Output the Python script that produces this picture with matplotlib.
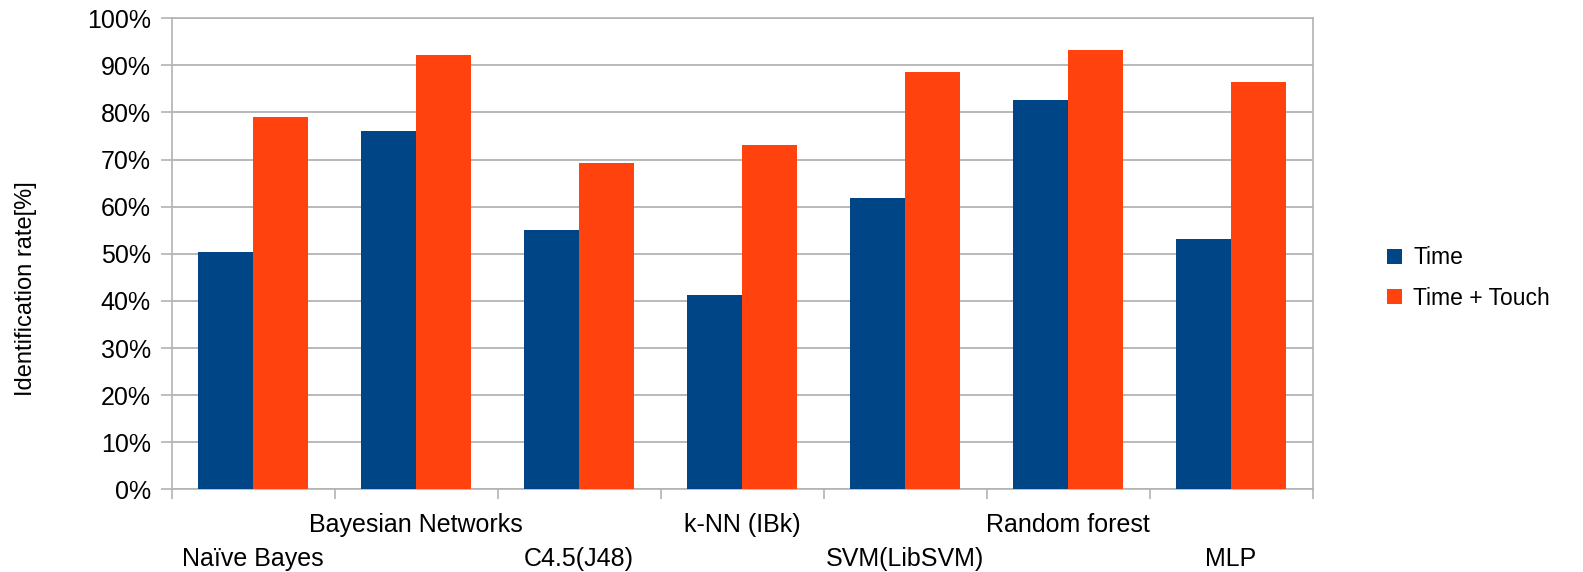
# 分類器ごとの識別率（Time / Time + Touch）棒グラフ
import os
os.environ.setdefault("MPLBACKEND", "Agg")
import numpy as np
import matplotlib.pyplot as plt
from matplotlib.ticker import FixedLocator

# ---- データ----
classifiers = ["Naïve Bayes", "Bayesian Networks", "C4.5(J48)", "k-NN (IBk)",
               "SVM(LibSVM)", "Random forest", "MLP"]
time_only = [50.4, 76.1, 55.1, 41.3, 61.8, 82.7, 53.1]
time_touch = [79.0, 92.2, 69.3, 73.1, 88.6, 93.2, 86.5]
series_names = ["Time", "Time + Touch"]
yticks = list(range(0, 101, 10))

BLUE = "#004586"
ORANGE = "#ff420e"
GRID = "#b3b3b3"

plt.rcParams["font.family"] = ["Liberation Sans", "DejaVu Sans"]

W, H = 1583, 572
fig = plt.figure(figsize=(W / 100, H / 100), dpi=100)
ax = fig.add_axes([171.5 / W, (H - 489.3) / H, (1312.5 - 171.5) / W, (489.3 - 18.3) / H])

n = len(classifiers)
x = np.arange(n) + 0.5
bw = 55 / 163
ax.bar(x - bw / 2, time_only, width=bw, color=BLUE, label=series_names[0], zorder=3)
ax.bar(x + bw / 2, time_touch, width=bw, color=ORANGE, label=series_names[1], zorder=3)

ax.set_xlim(0, n)
ax.set_ylim(0, 100)
ax.set_yticks(yticks)
ax.set_yticklabels([f"{v}%" for v in yticks], fontsize=18)
ax.yaxis.grid(True, color=GRID, lw=1.3, zorder=0)
ax.tick_params(axis="y", length=8, width=1.2, color=GRID, pad=7)

# x軸: 区切り位置に目盛り、ラベルは2段に交互配置
ax.xaxis.set_major_locator(FixedLocator(np.arange(n + 1)))
ax.set_xticklabels([])
ax.tick_params(axis="x", length=7, width=1.2, color=GRID)
for i, name in enumerate(classifiers):
    off = -26 if i % 2 == 1 else -50
    ax.annotate(name, xy=(x[i], 0), xycoords=("data", "axes fraction"),
                xytext=(0, off), textcoords="offset points",
                ha="center", va="center", fontsize=18)

for s in ax.spines.values():
    s.set_color(GRID)
    s.set_linewidth(1.2)

# 縦軸ラベルは図全体の縦中央に
ax.set_ylabel("Identification rate[%]", fontsize=17)
ax.yaxis.set_label_coords(-(171.5 - 37) / (1312.5 - 171.5), (489.3 - 288.7) / 471)

ax.legend(loc="center left", bbox_to_anchor=(1387 / W, (H - 278) / H),
          bbox_transform=fig.transFigure, frameon=False, fontsize=16.5,
          handlelength=0.65, handleheight=0.65, handletextpad=0.5,
          labelspacing=0.75, borderpad=0, borderaxespad=0)

fig.savefig("out.png", dpi=100)
plt.close(fig)
